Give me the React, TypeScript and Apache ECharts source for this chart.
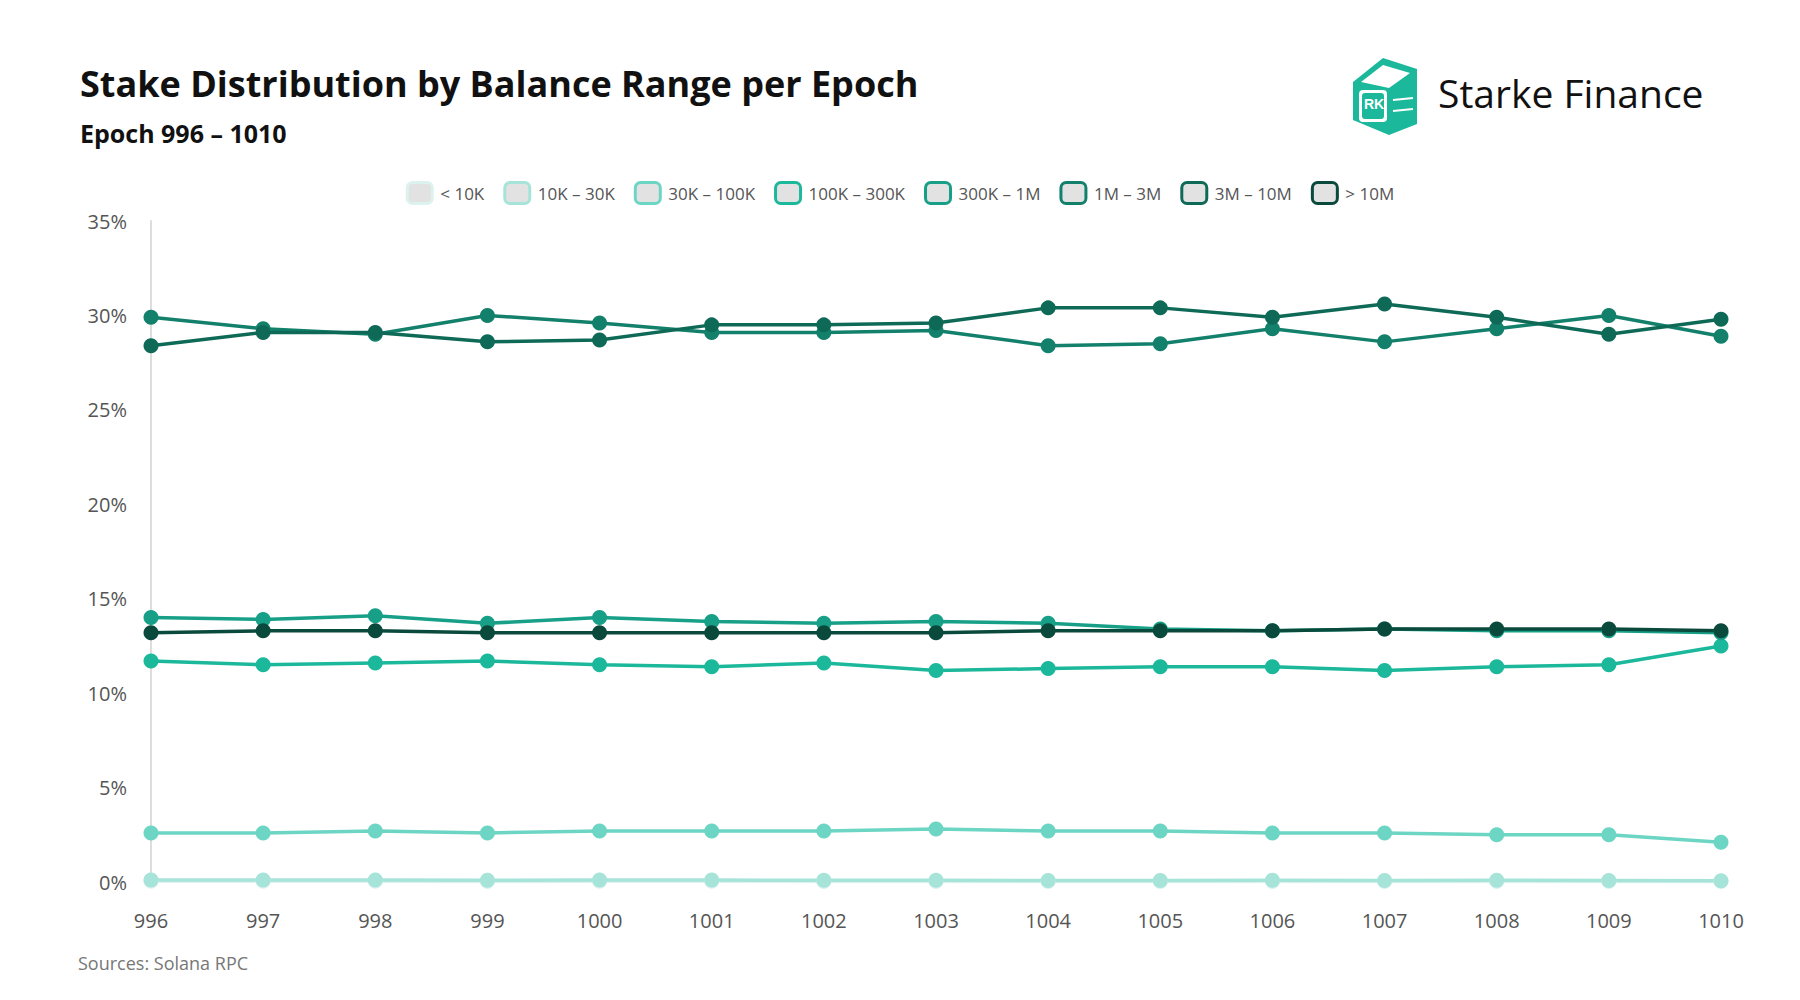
import { useEffect, useRef } from 'react';
import * as echarts from 'echarts';

const epochs = ['996', '997', '998', '999', '1000', '1001', '1002', '1003', '1004', '1005', '1006', '1007', '1008', '1009', '1010'];
const rangeNames = ['< 10K', '10K – 30K', '30K – 100K', '100K – 300K', '300K – 1M', '1M – 3M', '3M – 10M', '> 10M'];
const rangeColors = ['#dcf2ee', '#a6e3d8', '#6dd5c4', '#1cb89b', '#17a087', '#13806b', '#0e6a57', '#0a4a3c'];

const under10k = [0.04, 0.04, 0.04, 0.03, 0.04, 0.04, 0.03, 0.03, 0.03, 0.03, 0.03, 0.03, 0.03, 0.03, 0.02];
const k10to30 = [0.1, 0.1, 0.1, 0.09, 0.1, 0.1, 0.09, 0.09, 0.08, 0.08, 0.09, 0.08, 0.09, 0.08, 0.07];
const k30to100 = [2.6, 2.6, 2.7, 2.6, 2.7, 2.7, 2.7, 2.8, 2.7, 2.7, 2.6, 2.6, 2.5, 2.5, 2.1];
const k100to300 = [11.7, 11.5, 11.6, 11.7, 11.5, 11.4, 11.6, 11.2, 11.3, 11.4, 11.4, 11.2, 11.4, 11.5, 12.5];
const k300to1m = [14.0, 13.9, 14.1, 13.7, 14.0, 13.8, 13.7, 13.8, 13.7, 13.4, 13.3, 13.4, 13.3, 13.3, 13.2];
const m1to3 = [29.9, 29.3, 29.0, 30.0, 29.6, 29.1, 29.1, 29.2, 28.4, 28.5, 29.3, 28.6, 29.3, 30.0, 28.9];
const m3to10 = [28.4, 29.1, 29.1, 28.6, 28.7, 29.5, 29.5, 29.6, 30.4, 30.4, 29.9, 30.6, 29.9, 29.0, 29.8];
const over10m = [13.2, 13.3, 13.3, 13.2, 13.2, 13.2, 13.2, 13.2, 13.3, 13.3, 13.3, 13.4, 13.4, 13.4, 13.3];
const seriesValues = [under10k, k10to30, k30to100, k100to300, k300to1m, m1to3, m3to10, over10m];

const font = '"Open Sans", "Noto Sans", sans-serif';
const logoColor = '#1cb89b';

export default function App() {
  const chartRef = useRef<HTMLDivElement>(null);

  useEffect(() => {
    if (!chartRef.current) return;
    const chart = echarts.init(chartRef.current, undefined, { renderer: 'svg' });

    const option = {
      animation: false,
      backgroundColor: '#fff',
      textStyle: { fontFamily: font },
      title: [
        {
          text: 'Stake Distribution by Balance Range per Epoch',
          left: 67,
          top: 52,
          textStyle: { fontSize: 36, fontWeight: 'bold', color: '#111', fontFamily: font },
        },
        {
          text: 'Epoch 996 – 1010',
          left: 67,
          top: 107,
          textStyle: { fontSize: 25, fontWeight: 'bold', color: '#111', fontFamily: font },
        },
        {
          text: 'Sources: Solana RPC',
          left: 65,
          top: 941,
          textStyle: { fontSize: 18, fontWeight: 'normal', color: '#777', fontFamily: font },
        },
      ],
      legend: {
        top: 168,
        left: 'center',
        itemWidth: 25,
        itemHeight: 21,
        itemGap: 19,
        icon: 'roundRect',
        textStyle: { fontSize: 17, color: '#555', padding: [0, 0, 0, 3] },
        data: rangeNames.map((name, i) => ({
          name,
          itemStyle: { color: '#e2e2e2', borderColor: rangeColors[i], borderWidth: 3 },
        })),
      },
      grid: { left: 143, right: 71, top: 213, bottom: 110 },
      xAxis: {
        type: 'category',
        data: epochs,
        boundaryGap: false,
        axisLine: { lineStyle: { color: '#e4e4e4', width: 2 } },
        axisTick: { show: false },
        axisLabel: { fontSize: 20, color: '#555', margin: 28 },
      },
      yAxis: {
        type: 'value',
        min: 0,
        max: 35,
        interval: 5,
        axisLine: { show: true, lineStyle: { color: '#ddd', width: 2 } },
        splitLine: { show: false },
        axisLabel: { fontSize: 20, color: '#555', formatter: '{value}%', margin: 24 },
      },
      series: seriesValues.map((values, i) => ({
        name: rangeNames[i],
        type: 'line',
        data: values,
        symbol: 'circle',
        symbolSize: 15,
        color: rangeColors[i],
        lineStyle: { width: 3.5, color: rangeColors[i] },
        itemStyle: { color: rangeColors[i] },
      })),
      graphic: [
        {
          type: 'group',
          left: 1345,
          top: 50,
          children: [
            { type: 'polygon', shape: { points: [[4, 24], [34, 0], [68, 11], [68, 66], [40, 77], [4, 62]] }, style: { fill: logoColor } },
            { type: 'polygon', shape: { points: [[12, 24], [34, 7], [61, 15], [40, 30]] }, style: { fill: '#fff' } },
            { type: 'rect', shape: { x: 10, y: 32, width: 28, height: 32, r: 4 }, style: { fill: '#fff' } },
            { type: 'rect', shape: { x: 13, y: 35, width: 22, height: 26, r: 3 }, style: { fill: logoColor } },
            { type: 'text', style: { x: 15, y: 39, text: 'RK', fill: '#fff', font: 'bold 14px sans-serif' } },
            { type: 'line', shape: { x1: 44, y1: 42, x2: 64, y2: 40 }, style: { stroke: '#fff', lineWidth: 2 } },
            { type: 'line', shape: { x1: 44, y1: 53, x2: 64, y2: 51 }, style: { stroke: '#fff', lineWidth: 2 } },
          ],
        },
        {
          type: 'text',
          left: 1430,
          top: 65,
          style: { text: 'Starke Finance', fontSize: 39, fill: '#111', fontFamily: font },
        },
      ],
    };

    chart.setOption(option);
    return () => chart.dispose();
  }, []);

  return <div ref={chartRef} style={{ width: 1784, height: 984 }} />;
}
